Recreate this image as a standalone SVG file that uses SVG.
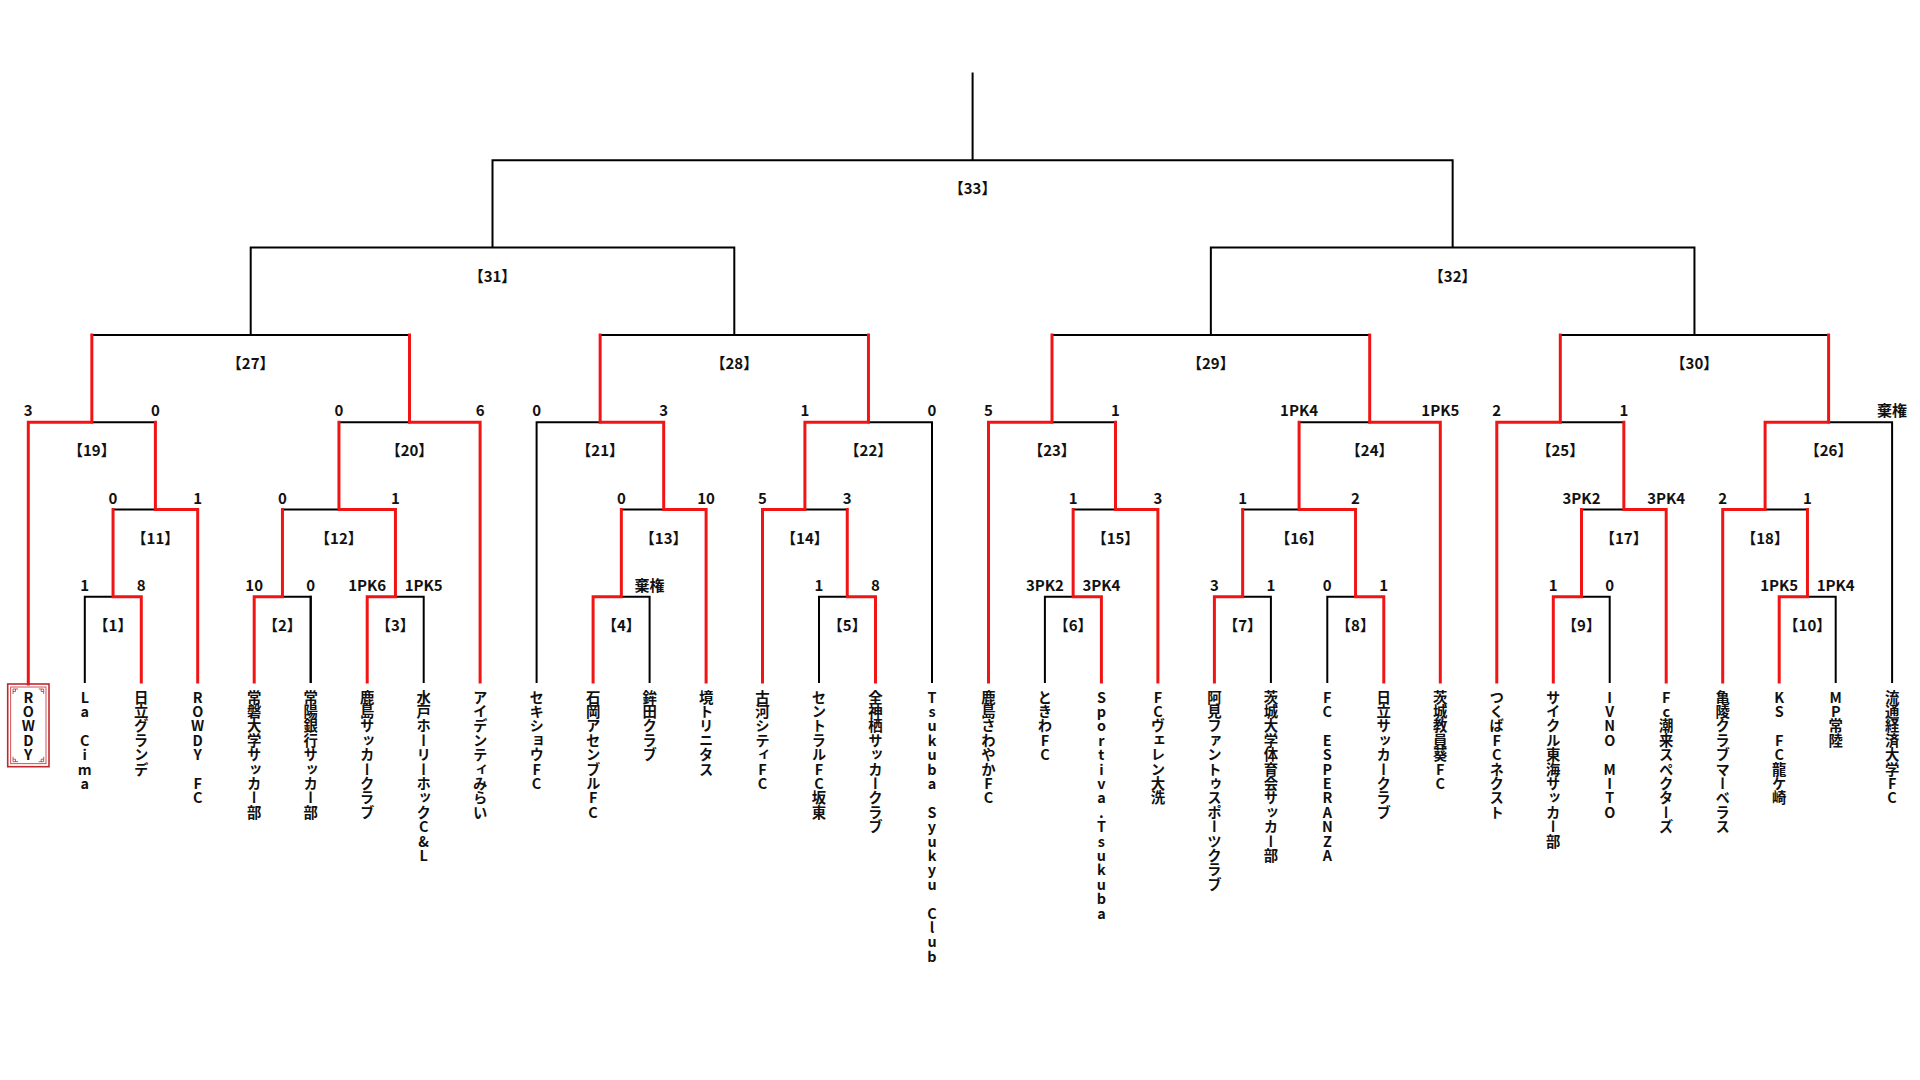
<svg xmlns="http://www.w3.org/2000/svg" width="1920" height="1080" viewBox="0 0 1920 1080">
<style>
.blk{fill:none;stroke:#000;stroke-width:2;stroke-linecap:square}
.red{fill:none;stroke:#f01414;stroke-width:3;stroke-linecap:square;stroke-linejoin:miter}
text{font-family:"Noto Sans CJK JP","Noto Sans",sans-serif;font-weight:bold;fill:#111}
.ml{font-size:15px;text-anchor:middle}
.sc{font-size:15px;text-anchor:middle}
.tm{font-size:14.4px;writing-mode:vertical-rl;text-orientation:upright;text-anchor:start}
.box{fill:none;stroke:#c0282d}
</style>
<rect width="1920" height="1080" fill="#fff"/>
<g id="connectors">
<path class="blk" d="M84.8 682V596.8H113.05 M282.45 596.8H310.7V682 M395.45 596.8H423.7V682 M621.35 596.8H649.6V682 M819 682V596.8H847.25 M1044.9 682V596.8H1073.15 M1242.65 596.8H1270.9V682 M1327.3 682V596.8H1355.55 M1581.5 596.8H1609.7V682 M1807.45 596.8H1835.7V682"/>
<path class="blk" d="M310.7 682V596.8 M113.05 509.5H155.4 M282.45 509.5H338.95 M621.35 509.5H663.7 M804.9 509.5H847.25 M1073.15 509.5H1115.5 M1242.65 509.5H1299.1 M1581.5 509.5H1623.85 M1765.1 509.5H1807.45"/>
<path class="blk" d="M91.85 422.3H155.4 M338.95 422.3H409.5 M536.6 682V422.3H600.15 M868.45 422.3H932V682 M1052 422.3H1115.5 M1299.1 422.3H1369.7 M1560.3 422.3H1623.85 M1828.6 422.3H1892.1V682"/>
<path class="blk" d="M91.85 335H409.5 M600.15 335H868.45 M1052 335H1369.7 M1560.3 335H1828.6 M250.7 335V247.5 M734.3 335V247.5 M1210.85 335V247.5 M1694.45 335V247.5 M250.7 247.5H734.3 M1210.85 247.5H1694.45 M492.5 247.5V160.3 M1452.65 247.5V160.3 M492.5 160.3H1452.65 M972.6 160.3V73.5"/>
<path class="red" d="M141.3 682V596.8H113.05V509.5 M197.7 682V509.5H155.4V422.3 M28.3 684V422.3H91.85V335"/>
<path class="red" d="M254.2 682V596.8H282.45V509.5 M367.2 682V596.8H395.45V509.5 M395.45 509.5H338.95V422.3 M480.1 682V422.3H409.5V335"/>
<path class="red" d="M593.1 682V596.8H621.35V509.5 M706.1 682V509.5H663.7V422.3 M663.7 422.3H600.15V335"/>
<path class="red" d="M875.5 682V596.8H847.25V509.5 M762.5 682V509.5H804.9V422.3 M804.9 422.3H868.45V335"/>
<path class="red" d="M1101.4 682V596.8H1073.15V509.5 M1157.9 682V509.5H1115.5V422.3 M988.5 682V422.3H1052V335"/>
<path class="red" d="M1214.4 682V596.8H1242.65V509.5 M1383.8 682V596.8H1355.55V509.5 M1355.55 509.5H1299.1V422.3 M1440.3 682V422.3H1369.7V335"/>
<path class="red" d="M1553.3 682V596.8H1581.5V509.5 M1666.2 682V509.5H1623.85V422.3 M1496.8 682V422.3H1560.3V335"/>
<path class="red" d="M1779.2 682V596.8H1807.45V509.5 M1722.7 682V509.5H1765.1V422.3 M1765.1 422.3H1828.6V335"/>
</g>
<g id="matches">
<g id="match-1"><text class="ml" x="113.05" y="630.8">【1】</text><text class="sc" x="84.8" y="590.8">1</text><text class="sc" x="141.3" y="590.8">8</text></g>
<g id="match-2"><text class="ml" x="282.45" y="630.8">【2】</text><text class="sc" x="254.2" y="590.8">10</text><text class="sc" x="310.7" y="590.8">0</text></g>
<g id="match-3"><text class="ml" x="395.45" y="630.8">【3】</text><text class="sc" x="367.2" y="590.8">1PK6</text><text class="sc" x="423.7" y="590.8">1PK5</text></g>
<g id="match-4"><text class="ml" x="621.35" y="630.8">【4】</text><text class="sc" x="649.6" y="590.8">棄権</text></g>
<g id="match-5"><text class="ml" x="847.25" y="630.8">【5】</text><text class="sc" x="819" y="590.8">1</text><text class="sc" x="875.5" y="590.8">8</text></g>
<g id="match-6"><text class="ml" x="1073.15" y="630.8">【6】</text><text class="sc" x="1044.9" y="590.8">3PK2</text><text class="sc" x="1101.4" y="590.8">3PK4</text></g>
<g id="match-7"><text class="ml" x="1242.65" y="630.8">【7】</text><text class="sc" x="1214.4" y="590.8">3</text><text class="sc" x="1270.9" y="590.8">1</text></g>
<g id="match-8"><text class="ml" x="1355.55" y="630.8">【8】</text><text class="sc" x="1327.3" y="590.8">0</text><text class="sc" x="1383.8" y="590.8">1</text></g>
<g id="match-9"><text class="ml" x="1581.5" y="630.8">【9】</text><text class="sc" x="1553.3" y="590.8">1</text><text class="sc" x="1609.7" y="590.8">0</text></g>
<g id="match-10"><text class="ml" x="1807.45" y="630.8">【10】</text><text class="sc" x="1779.2" y="590.8">1PK5</text><text class="sc" x="1835.7" y="590.8">1PK4</text></g>
<g id="match-11"><text class="ml" x="155.4" y="543.5">【11】</text><text class="sc" x="113.05" y="503.5">0</text><text class="sc" x="197.7" y="503.5">1</text></g>
<g id="match-12"><text class="ml" x="338.95" y="543.5">【12】</text><text class="sc" x="282.45" y="503.5">0</text><text class="sc" x="395.45" y="503.5">1</text></g>
<g id="match-13"><text class="ml" x="663.7" y="543.5">【13】</text><text class="sc" x="621.35" y="503.5">0</text><text class="sc" x="706.1" y="503.5">10</text></g>
<g id="match-14"><text class="ml" x="804.9" y="543.5">【14】</text><text class="sc" x="762.5" y="503.5">5</text><text class="sc" x="847.25" y="503.5">3</text></g>
<g id="match-15"><text class="ml" x="1115.5" y="543.5">【15】</text><text class="sc" x="1073.15" y="503.5">1</text><text class="sc" x="1157.9" y="503.5">3</text></g>
<g id="match-16"><text class="ml" x="1299.1" y="543.5">【16】</text><text class="sc" x="1242.65" y="503.5">1</text><text class="sc" x="1355.55" y="503.5">2</text></g>
<g id="match-17"><text class="ml" x="1623.85" y="543.5">【17】</text><text class="sc" x="1581.5" y="503.5">3PK2</text><text class="sc" x="1666.2" y="503.5">3PK4</text></g>
<g id="match-18"><text class="ml" x="1765.1" y="543.5">【18】</text><text class="sc" x="1722.7" y="503.5">2</text><text class="sc" x="1807.45" y="503.5">1</text></g>
<g id="match-19"><text class="ml" x="91.85" y="456.3">【19】</text><text class="sc" x="28.3" y="416.3">3</text><text class="sc" x="155.4" y="416.3">0</text></g>
<g id="match-20"><text class="ml" x="409.5" y="456.3">【20】</text><text class="sc" x="338.95" y="416.3">0</text><text class="sc" x="480.1" y="416.3">6</text></g>
<g id="match-21"><text class="ml" x="600.15" y="456.3">【21】</text><text class="sc" x="536.6" y="416.3">0</text><text class="sc" x="663.7" y="416.3">3</text></g>
<g id="match-22"><text class="ml" x="868.45" y="456.3">【22】</text><text class="sc" x="804.9" y="416.3">1</text><text class="sc" x="932" y="416.3">0</text></g>
<g id="match-23"><text class="ml" x="1052" y="456.3">【23】</text><text class="sc" x="988.5" y="416.3">5</text><text class="sc" x="1115.5" y="416.3">1</text></g>
<g id="match-24"><text class="ml" x="1369.7" y="456.3">【24】</text><text class="sc" x="1299.1" y="416.3">1PK4</text><text class="sc" x="1440.3" y="416.3">1PK5</text></g>
<g id="match-25"><text class="ml" x="1560.3" y="456.3">【25】</text><text class="sc" x="1496.8" y="416.3">2</text><text class="sc" x="1623.85" y="416.3">1</text></g>
<g id="match-26"><text class="ml" x="1828.6" y="456.3">【26】</text><text class="sc" x="1892.1" y="416.3">棄権</text></g>
<g id="match-27"><text class="ml" x="250.7" y="369">【27】</text></g>
<g id="match-28"><text class="ml" x="734.3" y="369">【28】</text></g>
<g id="match-29"><text class="ml" x="1210.85" y="369">【29】</text></g>
<g id="match-30"><text class="ml" x="1694.45" y="369">【30】</text></g>
<g id="match-31"><text class="ml" x="492.5" y="281.5">【31】</text></g>
<g id="match-32"><text class="ml" x="1452.65" y="281.5">【32】</text></g>
<g id="match-33"><text class="ml" x="972.6" y="194.3">【33】</text></g>
</g>
<g id="teams">
<g id="team-0">
<rect class="box" x="7.7" y="684" width="41.3" height="82.7" stroke-width="1.6"/>
<rect class="box" x="10.7" y="687" width="35.3" height="76.7" stroke-width="0.8"/>
<path class="box" stroke-width="0.8" d="M13 694V689H18 M13 691.5H15.5V689 M43.7 694V689H38.7 M43.7 691.5H41.2V689 M13 756.7V761.7H18 M13 759.2H15.5V761.7 M43.7 756.7V761.7H38.7 M43.7 759.2H41.2V761.7"/>
<text class="tm" x="28.3" y="690">ROWDY</text>
</g>
<g id="team-1"><text class="tm" x="84.8" y="690">La Cima</text></g>
<g id="team-2"><text class="tm" x="141.3" y="690">日立グランデ</text></g>
<g id="team-3"><text class="tm" x="197.7" y="690">ROWDY FC</text></g>
<g id="team-4"><text class="tm" x="254.2" y="690">常磐大学サッカー部</text></g>
<g id="team-5"><text class="tm" x="310.7" y="690">常陽銀行サッカー部</text></g>
<g id="team-6"><text class="tm" x="367.2" y="690">鹿島サッカークラブ</text></g>
<g id="team-7"><text class="tm" x="423.7" y="690">水戸ホーリーホックC&amp;L</text></g>
<g id="team-8"><text class="tm" x="480.1" y="690">アイデンティみらい</text></g>
<g id="team-9"><text class="tm" x="536.6" y="690">セキショウFC</text></g>
<g id="team-10"><text class="tm" x="593.1" y="690">石岡アセンブルFC</text></g>
<g id="team-11"><text class="tm" x="649.6" y="690">鉾田クラブ</text></g>
<g id="team-12"><text class="tm" x="706.1" y="690">境トリニタス</text></g>
<g id="team-13"><text class="tm" x="762.5" y="690">古河シティFC</text></g>
<g id="team-14"><text class="tm" x="819" y="690">セントラルFC坂東</text></g>
<g id="team-15"><text class="tm" x="875.5" y="690">全神栖サッカークラブ</text></g>
<g id="team-16"><text class="tm" x="932" y="690">Tsukuba Syukyu Club</text></g>
<g id="team-17"><text class="tm" x="988.5" y="690">鹿島さわやかFC</text></g>
<g id="team-18"><text class="tm" x="1044.9" y="690">ときわFC</text></g>
<g id="team-19"><text class="tm" x="1101.4" y="690">Sportiva.Tsukuba</text></g>
<g id="team-20"><text class="tm" x="1157.9" y="690">FCヴェレン大洗</text></g>
<g id="team-21"><text class="tm" x="1214.4" y="690">阿見ファントゥスポーツクラブ</text></g>
<g id="team-22"><text class="tm" x="1270.9" y="690">茨城大学体育会サッカー部</text></g>
<g id="team-23"><text class="tm" x="1327.3" y="690">FC ESPERANZA</text></g>
<g id="team-24"><text class="tm" x="1383.8" y="690">日立サッカークラブ</text></g>
<g id="team-25"><text class="tm" x="1440.3" y="690">茨城教員葵FC</text></g>
<g id="team-26"><text class="tm" x="1496.8" y="690">つくばFCネクスト</text></g>
<g id="team-27"><text class="tm" x="1553.3" y="690">サイクル東海サッカー部</text></g>
<g id="team-28"><text class="tm" x="1609.7" y="690">IVNO MITO</text></g>
<g id="team-29"><text class="tm" x="1666.2" y="690">Fc潮来スペクターズ</text></g>
<g id="team-30"><text class="tm" x="1722.7" y="690">亀陵クラブマーベラス</text></g>
<g id="team-31"><text class="tm" x="1779.2" y="690">KS FC龍ケ崎</text></g>
<g id="team-32"><text class="tm" x="1835.7" y="690">MP常陸</text></g>
<g id="team-33"><text class="tm" x="1892.1" y="690">流通経済大学FC</text></g>
</g>
</svg>
